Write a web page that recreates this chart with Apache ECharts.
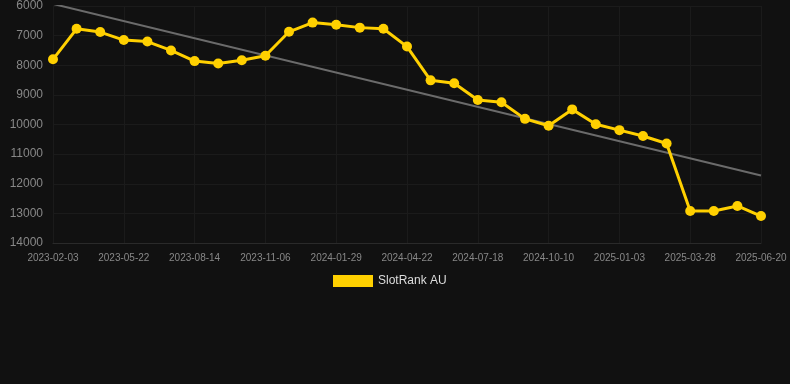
<!DOCTYPE html>
<html>
<head>
<meta charset="utf-8">
<script src="https://cdn.jsdelivr.net/npm/echarts@6/dist/echarts.min.js"></script>
<style>
  html, body { margin: 0; padding: 0; background: #111111; }
  #chart { width: 790px; height: 384px; }
</style>
</head>
<body>
<div id="chart"></div>
<script>
// categories (labels shown every third entry)
const dates = [
  "2023-02-03", "2023-03-15", "2023-04-20",
  "2023-05-22", "2023-06-19", "2023-07-17",
  "2023-08-14", "2023-09-11", "2023-10-09",
  "2023-11-06", "2023-12-04", "2024-01-01",
  "2024-01-29", "2024-02-26", "2024-03-25",
  "2024-04-22", "2024-05-20", "2024-06-17",
  "2024-07-18", "2024-08-15", "2024-09-12",
  "2024-10-10", "2024-11-07", "2024-12-05",
  "2025-01-03", "2025-01-31", "2025-02-28",
  "2025-03-28", "2025-04-25", "2025-05-23",
  "2025-06-20"
];

const slotRank = [
  7800, 6770, 6880, 7150, 7200, 7500, 7860, 7940, 7830, 7680,
  6870, 6560, 6630, 6730, 6770, 7370, 8510, 8610, 9170, 9250,
  9810, 10040, 9490, 9990, 10190, 10390, 10640, 12920, 12920, 12750,
  13090
];

// trend line end points
const trendStart = 5930;
const trendEnd = 11720;

const font = "Liberation Sans, Arial, sans-serif";
const chart = echarts.init(document.getElementById("chart"), null, { renderer: "canvas" });

chart.setOption({
  animation: false,
  backgroundColor: "#111111",
  grid: { left: 53, right: 29, top: 6, bottom: 141 },
  legend: {
    bottom: 92,
    left: 328,
    icon: "rect",
    itemWidth: 40,
    itemHeight: 12,
    itemGap: 10,
    textStyle: { color: "#dddddd", fontSize: 12, fontFamily: font },
    data: ["SlotRank AU"]
  },
  xAxis: {
    type: "category",
    boundaryGap: false,
    data: dates,
    axisLine: { lineStyle: { color: "#2a2a2a" } },
    axisTick: { show: false },
    axisLabel: { interval: 2, color: "#888888", fontSize: 10, margin: 10, fontFamily: font },
    splitLine: { show: true, interval: 2, lineStyle: { color: "#1b1b1b" } }
  },
  yAxis: {
    type: "value",
    inverse: true,
    min: 6000,
    max: 14000,
    interval: 1000,
    axisLine: { show: false },
    axisTick: { show: false },
    axisLabel: {
      color: "#888888",
      fontSize: 12,
      margin: 10,
      fontFamily: font,
      formatter: (v) => String(v)
    },
    splitLine: { lineStyle: { color: "#1b1b1b" } }
  },
  series: [
    {
      name: "trend",
      type: "line",
      data: [[dates[0], trendStart], [dates[dates.length - 1], trendEnd]],
      showSymbol: false,
      lineStyle: { color: "#6b6b6b", width: 2 },
      itemStyle: { color: "#6b6b6b" },
      silent: true,
      z: 1
    },
    {
      name: "SlotRank AU",
      type: "line",
      data: slotRank,
      symbol: "circle",
      symbolSize: 10,
      lineStyle: { color: "#ffd000", width: 3 },
      itemStyle: { color: "#ffd000" },
      z: 2
    }
  ]
});
</script>
</body>
</html>
